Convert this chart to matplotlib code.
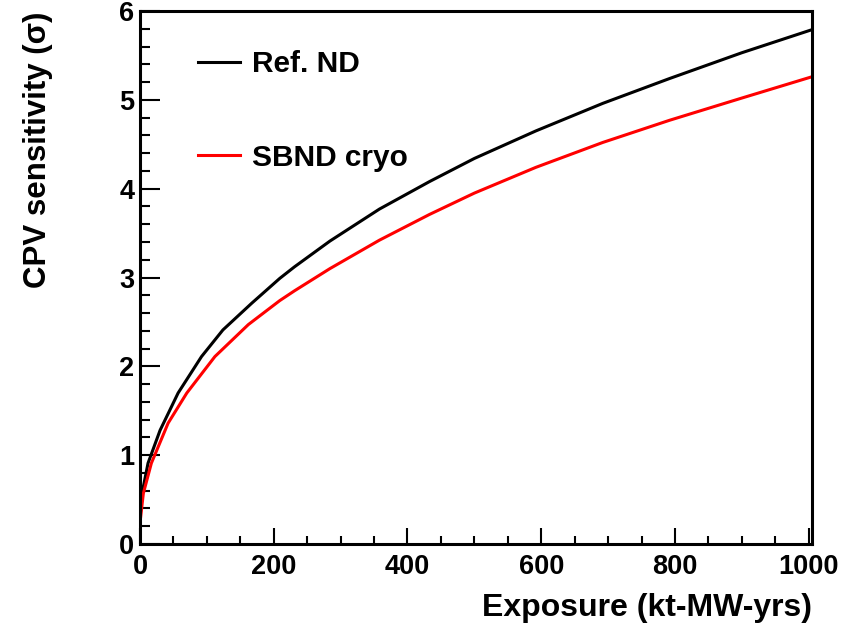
import matplotlib
matplotlib.use("Agg")
import matplotlib.pyplot as plt
from matplotlib.ticker import MultipleLocator

# CPV sensitivity vs exposure for two near-detector options
ref_exposure = [0, 2.5, 12, 30, 57, 92, 124, 167, 209, 231, 284, 358, 433,
                500, 592, 692, 792, 900, 1005]
ref_sigma = [0.28, 0.55, 0.91, 1.28, 1.70, 2.11, 2.41, 2.71, 2.99, 3.12, 3.41,
             3.77, 4.08, 4.34, 4.65, 4.96, 5.24, 5.53, 5.79]

sbnd_exposure = [0, 5, 17, 42, 70, 112, 162, 209, 231, 284, 358, 433, 500,
                 592, 692, 792, 900, 1005]
sbnd_sigma = [0.24, 0.57, 0.91, 1.36, 1.70, 2.11, 2.47, 2.74, 2.85, 3.10,
              3.42, 3.71, 3.95, 4.24, 4.52, 4.77, 5.02, 5.26]

series_labels = ["Ref. ND", "SBND cryo"]
series_colors = ["black", "#ff0000"]

x_ticks = [0, 200, 400, 600, 800, 1000]
y_ticks = [0, 1, 2, 3, 4, 5, 6]

plt.rcParams["font.family"] = ["Liberation Sans", "DejaVu Sans"]
plt.rcParams["font.weight"] = "bold"

fig = plt.figure(figsize=(8.47, 6.25), dpi=100)
ax = fig.add_axes([0.1653, 0.1296, 0.9587 - 0.1653, 0.9824 - 0.1296])

ax.plot(ref_exposure, ref_sigma, color=series_colors[0], lw=2.2,
        label=series_labels[0])
ax.plot(sbnd_exposure, sbnd_sigma, color=series_colors[1], lw=2.2,
        label=series_labels[1])

ax.set_xlim(0, 1005)
ax.set_ylim(0, 6)
ax.set_xticks(x_ticks)
ax.set_yticks(y_ticks)
ax.xaxis.set_minor_locator(MultipleLocator(50))
ax.yaxis.set_minor_locator(MultipleLocator(0.2))

for s in ax.spines.values():
    s.set_linewidth(2.2)

ax.tick_params(axis="both", which="both", direction="in", width=1.5,
               top=False, right=False, labelsize=19.5)
ax.tick_params(axis="x", which="major", length=11.5, pad=7)
ax.tick_params(axis="x", which="minor", length=5.8)
ax.tick_params(axis="y", which="major", length=14.4, pad=4)
ax.tick_params(axis="y", which="minor", length=7.2)
for lab in ax.get_xticklabels() + ax.get_yticklabels():
    lab.set_fontweight("bold")

leg = ax.legend(loc="upper left", bbox_to_anchor=(0.047, 0.977),
                frameon=False, handlelength=1.4,
                handletextpad=0.38, labelspacing=2.2,
                prop={"weight": "bold", "size": 21.5})

fig.text(0.9587, 0.0144, "Exposure (kt-MW-yrs)", ha="right", va="baseline",
         fontsize=23, fontweight="bold")
fig.text(0.045, 0.982, "CPV sensitivity (σ)", ha="center", va="top",
         rotation=90, fontsize=22.5, fontweight="bold")

fig.savefig("out.png", dpi=100)
